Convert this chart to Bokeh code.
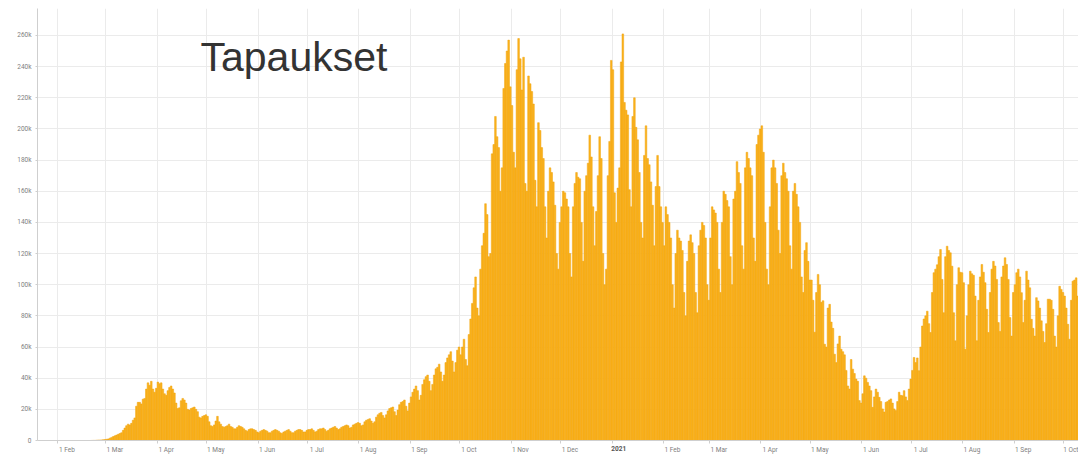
import pandas as pd
from bokeh.plotting import figure
from bokeh.models import Range1d, FixedTicker, Label, LinearAxis, ColumnDataSource
from bokeh.embed import file_html
from bokeh.resources import INLINE

# ---- daily new cases (thousands), one list per month ----
jan_2020 = [0, 0, 0, 0, 0, 0, 0, 0, 0, 0, 0, 0]  # from 20 Jan
feb_2020 = [0, 0, 0, 0, 0, 0, 0, 0, 0, 0, 0, 0, 0, 0, 0, 0, 0, 0, 0, 0,
            0.05, 0.1, 0.1, 0.2, 0.3, 0.3, 0.4, 0.5, 0.6]
mar_2020 = [0.8, 1.0, 1.5, 2.0, 2.5, 3.0, 3.5, 4.0, 4.5, 5.0, 6.5, 8.0, 9.5, 10.5,
            10.0, 11.0, 13.0, 14.5, 22.0, 24.5, 24.5, 23.5, 26.5, 27.0, 33.0, 37.0, 35.5, 38.0,
            33.0, 31.0, 33.5]
apr_2020 = [37.5, 36.5, 37.0, 33.0, 30.0, 29.0, 32.0, 34.0, 35.0, 33.0, 30.5, 24.0, 20.5, 21.0,
            25.5, 27.0, 26.0, 24.0, 20.0, 19.5, 20.5, 21.0, 21.5, 20.0, 18.5, 15.0, 14.5, 15.5,
            16.0, 16.5]
may_2020 = [15.5, 12.0, 9.5, 9.0, 10.0, 12.5, 15.5, 12.0, 10.5, 9.0, 8.5, 9.0, 9.5, 10.5,
            9.0, 8.5, 7.5, 7.5, 8.5, 9.5, 9.0, 8.5, 7.5, 6.5, 6.0, 7.0, 7.5, 7.5,
            7.0, 6.5, 5.5]
jun_2020 = [5.0, 6.0, 6.5, 7.0, 6.5, 6.0, 5.0, 5.0, 6.0, 6.5, 7.0, 6.5, 6.0, 5.0,
            4.5, 5.5, 6.0, 6.5, 7.0, 6.0, 5.0, 5.0, 6.0, 6.5, 7.0, 7.0, 6.5, 5.5,
            5.5, 6.5]
jul_2020 = [7.0, 7.0, 7.5, 6.5, 5.5, 6.0, 7.0, 7.5, 7.5, 8.0, 7.0, 6.0, 6.5, 7.5,
            8.0, 8.5, 9.0, 8.0, 7.0, 7.5, 8.5, 9.0, 9.5, 10.0, 9.5, 8.0, 8.5, 10.0,
            10.5, 11.0, 11.5]
aug_2020 = [11.0, 9.5, 10.0, 12.0, 13.0, 13.5, 14.0, 12.5, 11.0, 12.0, 15.0, 16.5, 17.5, 18.0,
            16.0, 14.5, 16.5, 19.0, 20.5, 21.0, 21.5, 18.5, 16.0, 19.5, 23.0, 24.5, 25.0, 26.0,
            22.0, 19.0, 24.0]
sep_2020 = [28, 31, 33, 35, 32, 26, 29, 36, 39, 41, 42, 38, 32, 36,
            42, 46, 47, 49, 44, 38, 42, 50, 53, 55, 57, 51, 44, 50,
            58, 60]
oct_2020 = [55, 60, 65, 52, 48, 68, 78, 88, 98, 105, 85, 80, 110, 125,
            133, 152, 145, 118, 120, 184, 190, 208, 195, 188, 160, 175, 226, 242,
            250, 257, 227]
nov_2020 = [215, 185, 175, 238, 258, 245, 225, 246, 165, 160, 234, 229, 224, 216,
            167, 150, 204, 199, 188, 181, 150, 130, 160, 175, 172, 166, 151, 120,
            110, 140]
dec_2020 = [150, 160, 159, 155, 150, 120, 105, 150, 165, 172, 169, 168, 140, 115,
            160, 170, 178, 196, 182, 150, 125, 147, 170, 195, 181, 120, 100, 110,
            170, 192, 244]
jan_2021 = [238, 159, 140, 162, 175, 243, 261, 217, 212, 209, 161, 150, 208, 220,
            201, 193, 172, 140, 130, 183, 202, 181, 177, 166, 151, 125, 163, 183,
            163, 150, 140]
feb_2021 = [125, 150, 145, 140, 130, 100, 85, 120, 135, 130, 128, 122, 95, 80,
            115, 128, 132, 127, 120, 95, 82, 125, 135, 140, 138, 130, 100, 90]
mar_2021 = [130, 150, 148, 146, 140, 110, 95, 140, 160, 158, 154, 150, 118, 100,
            155, 160, 179, 172, 165, 125, 110, 175, 185, 181, 175, 170, 130, 115,
            190, 196, 200]
apr_2021 = [202, 185, 140, 110, 100, 150, 175, 180, 175, 165, 135, 120, 170, 178,
            172, 168, 160, 125, 110, 160, 165, 158, 150, 140, 105, 95, 122, 127,
            115, 103]
may_2021 = [103, 90, 69.5, 95, 106.6, 100, 88.7, 89.7, 61.8, 60, 85, 87.4, 76, 72,
            55.4, 50, 62, 67, 58.6, 57, 55, 45, 35, 33, 52, 45.8, 43, 39.4,
            38, 25.6, 24]
jun_2021 = [30, 41.5, 40, 37.3, 35, 32, 21.3, 28, 33, 31, 27.7, 25, 20.3, 18.3,
            24.5, 25, 26, 26.7, 24, 20.3, 19.2, 25, 31, 29, 28.8, 32, 28, 25.6,
            33, 39.4]
jul_2021 = [45, 53.3, 50, 53, 44.8, 60, 73.5, 78, 80, 83, 75, 69.3, 95, 107.7,
            110, 112.8, 118, 122.6, 103.4, 82, 118, 124.7, 122, 120.5, 111.9, 82, 64, 100,
            110.9, 108, 107.7]
aug_2021 = [101.3, 58.6, 80, 100, 108.7, 107, 106, 92.7, 64, 90, 105, 113, 108, 101.3,
            84.2, 69.3, 95, 110, 115, 112, 103.4, 75.7, 70, 105, 112, 117.3, 113, 103.4,
            78.9, 67, 95]
sep_2021 = [100, 107.7, 110, 105, 94.9, 75.7, 90, 108.7, 103, 98, 77.8, 72, 67, 91.7,
            89.6, 85, 76.8, 70, 62.9, 75, 90.7, 90.7, 90, 84.2, 67, 60, 80, 99,
            97, 95]
oct_2021 = [92.7, 85, 74.6, 65, 90, 102.3, 103, 104.4, 92.7]

month_series = [
    ("2020-01-20", jan_2020), ("2020-02-01", feb_2020), ("2020-03-01", mar_2020),
    ("2020-04-01", apr_2020), ("2020-05-01", may_2020), ("2020-06-01", jun_2020),
    ("2020-07-01", jul_2020), ("2020-08-01", aug_2020), ("2020-09-01", sep_2020),
    ("2020-10-01", oct_2020), ("2020-11-01", nov_2020), ("2020-12-01", dec_2020),
    ("2021-01-01", jan_2021), ("2021-02-01", feb_2021), ("2021-03-01", mar_2021),
    ("2021-04-01", apr_2021), ("2021-05-01", may_2021), ("2021-06-01", jun_2021),
    ("2021-07-01", jul_2021), ("2021-08-01", aug_2021), ("2021-09-01", sep_2021),
    ("2021-10-01", oct_2021),
]

x_tick_dates = ["2020-02-01", "2020-03-01", "2020-04-01", "2020-05-01", "2020-06-01",
                "2020-07-01", "2020-08-01", "2020-09-01", "2020-10-01", "2020-11-01",
                "2020-12-01", "2021-01-01", "2021-02-01", "2021-03-01", "2021-04-01",
                "2021-05-01", "2021-06-01", "2021-07-01", "2021-08-01", "2021-09-01",
                "2021-10-01"]
x_tick_labels = ["1 Feb", "1 Mar", "1 Apr", "1 May", "1 Jun", "1 Jul", "1 Aug", "1 Sep",
                 "1 Oct", "1 Nov", "1 Dec", "2021", "1 Feb", "1 Mar", "1 Apr", "1 May",
                 "1 Jun", "1 Jul", "1 Aug", "1 Sep", "1 Oct"]
year_label = "2021"
y_ticks = [0, 20, 40, 60, 80, 100, 120, 140, 160, 180, 200, 220, 240, 260]
y_tick_labels = ["0", "20k", "40k", "60k", "80k", "100k", "120k", "140k", "160k",
                 "180k", "200k", "220k", "240k", "260k"]
title_text = "Tapaukset"

BAR_FILL = "#FCB31C"
BAR_LINE = "#EFA30E"
GRID = "#ebebeb"
AXIS = "#cfcfcf"
LABEL = "#808080"
FONT = "Roboto"
LABEL_SHIFT_DAYS = 5.5  # month labels sit just right of their tick
YEAR_SHIFT_DAYS = 4.0


def ms(s):
    return pd.Timestamp(s).value / 1e6


DAY = 86400000.0
xs, tops = [], []
for start, vals in month_series:
    t0 = ms(start)
    for i, v in enumerate(vals):
        xs.append(t0 + i * DAY + DAY / 2)
        tops.append(v)

src = ColumnDataSource(dict(x=xs, top=tops))

p = figure(width=1078, height=456,
           output_backend="svg", toolbar_location=None,
           x_range=Range1d(ms("2020-01-19 17:30"), ms("2021-10-09 21:40")),
           y_range=Range1d(0, 277.3),
           min_border_left=37, min_border_right=0, min_border_top=8,
           min_border_bottom=14)
p.outline_line_color = None
p.background_fill_color = "white"
p.border_fill_color = "white"

p.vbar(x="x", top="top", width=DAY, bottom=0, source=src,
       fill_color=BAR_FILL, line_color=BAR_LINE, line_width=0.5)

# axis with tick marks at each month start (no text)
xt = [ms(s) for s in x_tick_dates]
xticker = FixedTicker(ticks=xt)
p.xaxis.ticker = xticker
p.xgrid.ticker = xticker
p.xaxis.major_label_overrides = {t: "" for t in xt}
p.xaxis.major_label_text_font_size = "0px"
p.xaxis.major_label_standoff = 0
p.xaxis.major_tick_out = 3
p.xaxis.major_tick_in = 0
p.xaxis.minor_tick_line_color = None
p.xaxis.axis_line_color = AXIS
p.xaxis.major_tick_line_color = AXIS
p.xgrid.grid_line_color = GRID

# month labels, just right of each tick (the year label gets its own bold axis)
shift = LABEL_SHIFT_DAYS * DAY
lab_ticks = [t + shift for t in xt]
lab_axis = LinearAxis(ticker=FixedTicker(ticks=lab_ticks),
                      major_label_overrides={t: ("" if l == year_label else l)
                                             for t, l in zip(lab_ticks, x_tick_labels)},
                      axis_line_color=None, major_tick_line_color=None,
                      minor_tick_line_color=None, major_tick_out=0, major_tick_in=0,
                      major_label_standoff=2, major_label_text_font_size="6.5px",
                      major_label_text_color=LABEL, major_label_text_font=FONT)
p.add_layout(lab_axis, "below")

year_ticks = [t + YEAR_SHIFT_DAYS * DAY for t, l in zip(xt, x_tick_labels) if l == year_label]
year_axis = LinearAxis(ticker=FixedTicker(ticks=year_ticks),
                       major_label_overrides={t: year_label for t in year_ticks},
                       axis_line_color=None, major_tick_line_color=None,
                       minor_tick_line_color=None, major_tick_out=0, major_tick_in=0,
                       major_label_standoff=-11, major_label_text_font_size="6.5px",
                       major_label_text_color="#555555", major_label_text_font=FONT,
                       major_label_text_font_style="bold")
p.add_layout(year_axis, "below")

yticker = FixedTicker(ticks=y_ticks)
p.yaxis.ticker = yticker
p.ygrid.ticker = yticker
p.yaxis.major_label_overrides = {t: l for t, l in zip(y_ticks, y_tick_labels)}
p.yaxis.major_tick_out = 2
p.yaxis.major_tick_in = 0
p.yaxis.minor_tick_line_color = None
p.yaxis.axis_line_color = AXIS
p.yaxis.major_tick_line_color = AXIS
p.yaxis.major_label_standoff = 4
p.yaxis.major_label_text_font_size = "6.5px"
p.yaxis.major_label_text_color = LABEL
p.yaxis.major_label_text_font = FONT
p.ygrid.grid_line_color = GRID

p.add_layout(Label(x=163, y=246, x_units="screen", y_units="data", text=title_text,
                   text_font="Liberation Sans", text_font_size="41px",
                   text_color="#333333", text_baseline="alphabetic", text_align="left"))

open("out.html", "w").write(file_html(p, INLINE))
